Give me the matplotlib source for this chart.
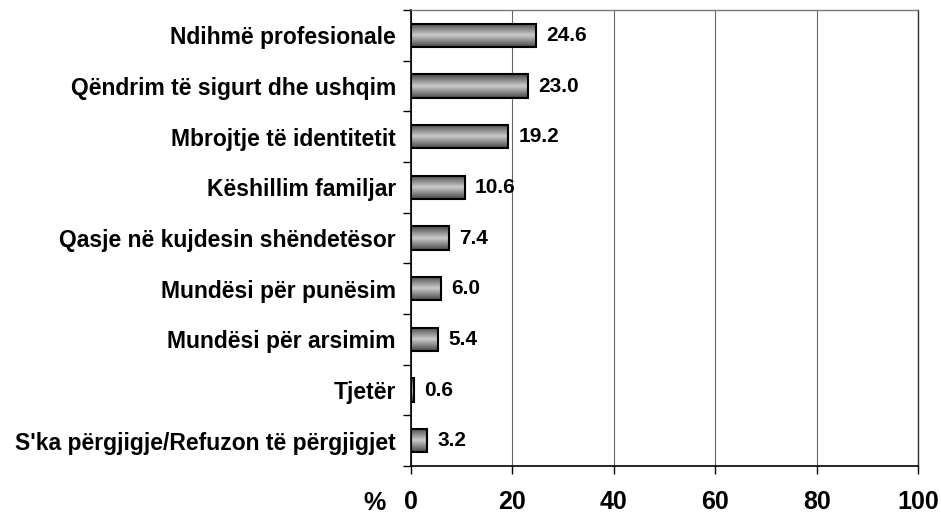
import numpy as np
import matplotlib.pyplot as plt

categories = ["Ndihmë profesionale", "Qëndrim të sigurt dhe ushqim", "Mbrojtje të identitetit",
              "Këshillim familjar", "Qasje në kujdesin shëndetësor", "Mundësi për punësim",
              "Mundësi për arsimim", "Tjetër", "S'ka përgjigje/Refuzon të përgjigjet"]
values = [24.6, 23.0, 19.2, 10.6, 7.4, 6.0, 5.4, 0.6, 3.2]
xticks = [0, 20, 40, 60, 80, 100]

plt.rcParams['font.family'] = ['Liberation Sans', 'DejaVu Sans']
plt.rcParams['font.weight'] = 'bold'

fig = plt.figure(figsize=(9.41, 5.16), dpi=100)
ax = fig.add_axes([0.4368, 0.0969, 0.5388, 0.8837])

y = np.arange(len(categories))
bars = ax.barh(y, values, height=0.46, facecolor='none', edgecolor='black', linewidth=1.5, zorder=3)

# vertical gradient: dark at edges, light in middle
t = np.linspace(0, 1, 64)
grad = 1 - np.abs(t - 0.5) * 2
grad = grad.reshape(-1, 1)
for b in bars:
    x0, y0 = b.get_x(), b.get_y()
    w, h = b.get_width(), b.get_height()
    im = ax.imshow(grad, extent=(x0, x0 + w, y0, y0 + h), aspect='auto',
                   cmap='gray', vmin=-0.55, vmax=1.4, zorder=2, interpolation='bilinear')
    im.set_clip_path(b)

for b, v in zip(bars, values):
    ax.text(b.get_width() + 2.0, b.get_y() + b.get_height() / 2, f"{v:.1f}",
            va='center', ha='left', fontsize=15, fontweight='bold')

ax.set_xlim(0, 100)
ax.set_ylim(len(categories) - 0.5, -0.5)
ax.set_xticks(xticks)
ax.set_xticklabels([str(v) for v in xticks], fontsize=18, fontweight='bold')
ax.tick_params(axis='x', length=6, pad=11, width=1)
ax.set_yticks(y)
ax.set_yticklabels(categories, fontsize=16.5, fontweight='bold')
ax.set_yticks(np.arange(len(categories) + 1) - 0.5, minor=True)
ax.tick_params(axis='y', which='major', length=0, pad=11)
ax.tick_params(axis='y', which='minor', length=6, width=1)
ax.grid(axis='x', color='#666666', linewidth=0.8, zorder=0)
ax.set_axisbelow(True)
ax.spines['top'].set_color('#777777')
ax.spines['top'].set_linewidth(1)
ax.spines['right'].set_color('#333333')
ax.spines['right'].set_linewidth(1)
ax.spines['left'].set_linewidth(1.2)
ax.spines['bottom'].set_linewidth(1.2)

fig.text(375 / 941, 1 - 503 / 516, "%", fontsize=18, fontweight='bold', ha='center', va='center')

fig.savefig('out.png', dpi=100)
